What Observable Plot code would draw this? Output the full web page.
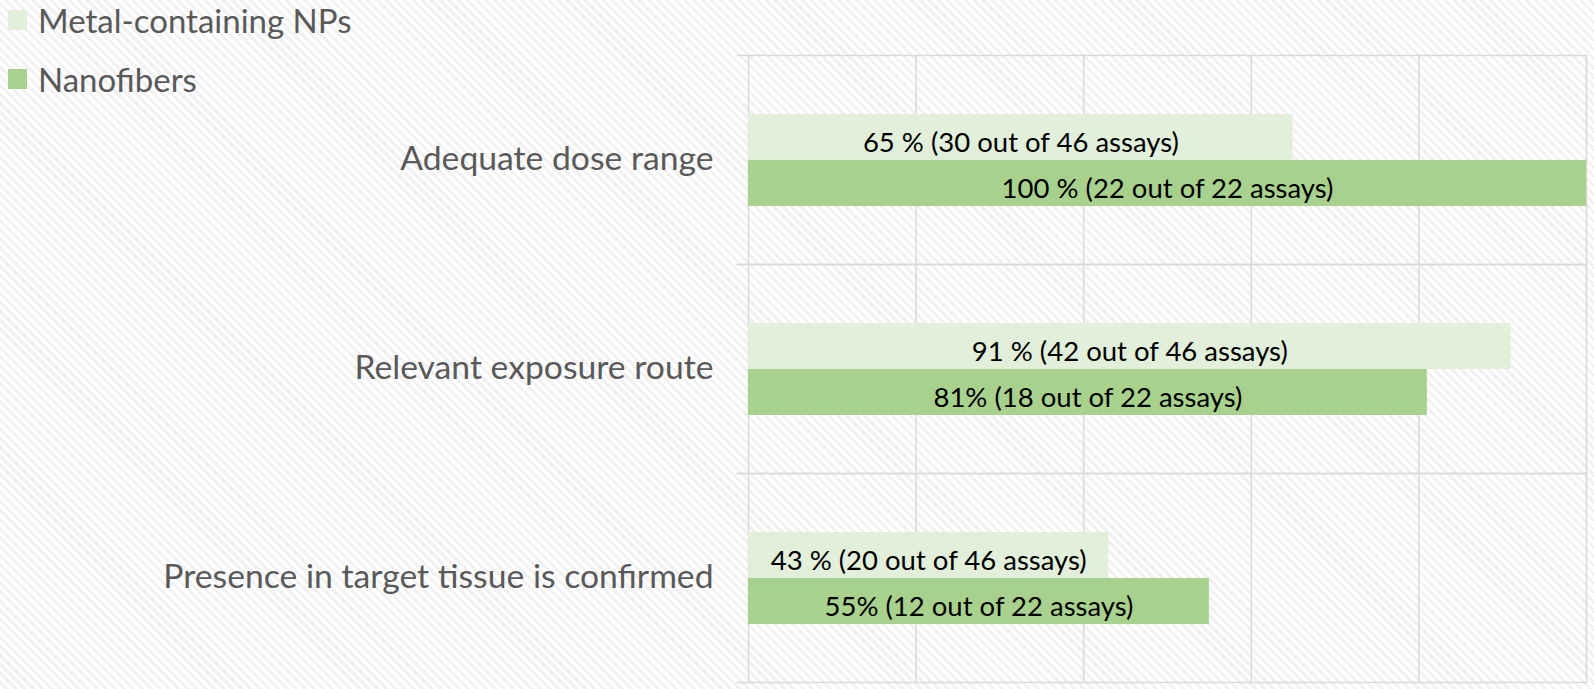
<!DOCTYPE html>
<html>
<head>
<meta charset="utf-8">
<script src="https://cdn.jsdelivr.net/npm/d3@7"></script>
<script src="https://cdn.jsdelivr.net/npm/@observablehq/plot@0.6"></script>
<style>
  html, body { margin: 0; padding: 0; }
  body {
    width: 1594px; height: 689px; overflow: hidden; position: relative;
    background: repeating-linear-gradient(45deg, #ffffff 0px, #ffffff 3.2px, #f2f2f2 3.2px, #f2f2f2 6.4px);
    font-family: Lato, sans-serif;
  }
  #chart { position: absolute; left: 0; top: 0; }
  #legend { position: absolute; left: 0; top: 0; }
</style>
</head>
<body>
<div id="chart"></div>
<div id="legend"></div>
<script>
const categories = ["Adequate dose range", "Relevant exposure route", "Presence in target tissue is confirmed"];
const series = ["Metal-containing NPs", "Nanofibers"];
const metalValues = [65, 91, 43];
const nanofiberValues = [100, 81, 55];
const metalLabels = ["65 % (30 out of 46 assays)", "91 % (42 out of 46 assays)", "43 % (20 out of 46 assays)"];
const nanofiberLabels = ["100 % (22 out of 22 assays)", "81% (18 out of 22 assays)", "55% (12 out of 22 assays)"];
const seriesColors = ["#e2efda", "#a9d18e"];
const xTicks = [0, 20, 40, 60, 80, 100];

const data = [];
categories.forEach((c, i) => {
  data.push({category: c, series: series[0], value: metalValues[i], label: metalLabels[i]});
  data.push({category: c, series: series[1], value: nanofiberValues[i], label: nanofiberLabels[i]});
});

const gridColor = "#d9d9d9";

const chart = Plot.plot({
  width: 1594,
  height: 689,
  marginLeft: 748,
  marginRight: 8,
  marginTop: 54,
  marginBottom: 6,
  style: {background: "transparent", fontFamily: "Lato, sans-serif"},
  x: {domain: [0, 100], axis: null},
  y: {domain: series, axis: null, paddingInner: 0, paddingOuter: 1.255},
  fy: {domain: categories, padding: 0},
  color: {domain: series, range: seriesColors},
  marks: [
    Plot.gridX(xTicks, {stroke: gridColor, strokeOpacity: 1, strokeWidth: 1.5}),
    Plot.frame({anchor: "top", stroke: gridColor, strokeWidth: 1.5, insetLeft: -11}),
    Plot.frame({anchor: "bottom", stroke: gridColor, strokeWidth: 1.5, insetLeft: -11}),
    Plot.barX(data, {fy: "category", y: "series", x: "value", fill: "series"}),
    Plot.text(data, {fy: "category", y: "series", x: d => d.value / 2, text: "label",
      fontSize: 27.5, fill: "#000000", dy: 6}),
    Plot.axisFy({anchor: "left", tickSize: 0, tickPadding: 35, fontSize: 33.7, fill: "#595959", label: null, dy: -1})
  ]
});
document.getElementById("chart").appendChild(chart);

// Legend
const legendSvg = d3.select("#legend").append("svg")
  .attr("width", 420).attr("height", 100)
  .style("font-family", "Lato, sans-serif");
const legendY = [10, 69];
series.forEach((s, i) => {
  legendSvg.append("rect")
    .attr("x", 8).attr("y", legendY[i]).attr("width", 19).attr("height", 20)
    .attr("fill", seriesColors[i]);
  legendSvg.append("text")
    .attr("x", 38).attr("y", legendY[i] + 23)
    .attr("font-size", 33).attr("fill", "#595959")
    .text(s);
});
</script>
</body>
</html>
